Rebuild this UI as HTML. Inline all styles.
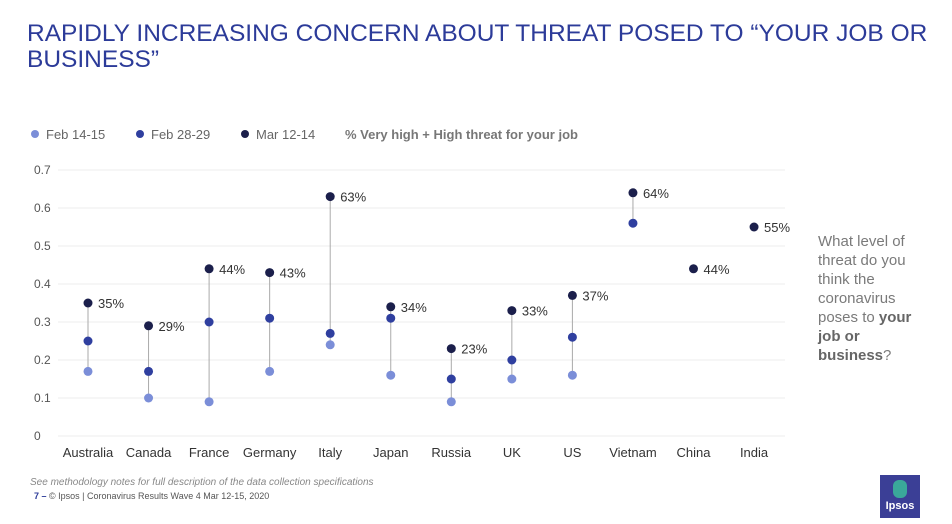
<!DOCTYPE html>
<html><head><meta charset="utf-8"><style>
body{margin:0;width:952px;height:524px;background:#fff;font-family:"Liberation Sans",sans-serif;overflow:hidden;position:relative}
.t{position:absolute;left:27px;top:21px;font-size:24.5px;line-height:26px;color:#2c3b99;letter-spacing:0px}
.side{position:absolute;left:818px;top:232px;font-size:15px;line-height:19px;color:#7a7a7a}
.side b{color:#666}
.foot1{position:absolute;left:30px;top:477px;font-size:10px;font-style:italic;color:#888}
.foot2{position:absolute;left:34px;top:491px;font-size:9px;color:#555}
.foot2 b{color:#2c3b99}
.logo{position:absolute;left:880px;top:475px;width:40px;height:43px;background:#3b3f96;color:#fff;font-size:11px;font-weight:bold;text-align:center}
</style></head><body>
<div class="t">RAPIDLY INCREASING CONCERN ABOUT THREAT POSED TO “YOUR JOB OR<br>BUSINESS”</div>
<svg id="c" width="952" height="524" style="position:absolute;left:0;top:0"></svg>
<div class="side">What level of<br>threat do you<br>think the<br>coronavirus<br>poses to <b>your<br>job or<br>business</b>?</div>
<div class="foot1">See methodology notes for full description of the data collection specifications</div>
<div class="foot2"><b>7 –</b> © Ipsos | Coronavirus Results Wave 4 Mar 12-15, 2020</div>
<div class="logo"><div style="width:14px;height:18px;background:#3aa89a;margin:5px auto 2px;border-radius:6px"></div>Ipsos</div>
<script>
const categories=["Australia","Canada","France","Germany","Italy","Japan","Russia","UK","US","Vietnam","China","India"];
const feb14=[0.17,0.10,0.09,0.17,0.24,0.16,0.09,0.15,0.16,null,null,null];
const feb28=[0.25,0.17,0.30,0.31,0.27,0.31,0.15,0.20,0.26,0.56,null,null];
const mar12=[0.35,0.29,0.44,0.43,0.63,0.34,0.23,0.33,0.37,0.64,0.44,0.55];
const ticks=[0,0.1,0.2,0.3,0.4,0.5,0.6,0.7];
const svg=document.getElementById('c');const NS='http://www.w3.org/2000/svg';
function y(v){return 436-v/0.7*266;}
function x(i){return 88+i*60.55;}
function mk(t,a,txt){const e=document.createElementNS(NS,t);for(const k in a)e.setAttribute(k,a[k]);if(txt!=null)e.textContent=txt;svg.appendChild(e);return e;}
ticks.forEach(t=>{
 const l=mk('line',{x1:58,x2:785,y1:y(t),y2:y(t),stroke:'#ececec','stroke-width':1});
 
 
 const tx=mk('text',{x:34,y:y(t)+4,'font-size':12,fill:'#555'},t===0?'0':String(t));
 
 
});
categories.forEach((c,i)=>{
 const tx=mk('text',{x:x(i),y:457,'font-size':13,fill:'#333','text-anchor':'middle'},c);
 
 
 const vals=[feb14[i],feb28[i],mar12[i]].filter(v=>v!=null);
 if(vals.length>1){
  const l=mk('line',{x1:x(i),x2:x(i),y1:y(Math.min(...vals)),y2:y(Math.max(...vals)),stroke:'#aaa','stroke-width':1});
  
  
 }
 [[feb14,'#7b8ed8'],[feb28,'#2f3f9f'],[mar12,'#1b1f4b']].forEach(([s,col])=>{
  if(s[i]==null)return;
  const d=mk('circle',{cx:x(i),cy:y(s[i]),r:4.5,fill:col});
  
  
 });
 const lb=mk('text',{x:x(i)+10,y:y(mar12[i])+5,'font-size':13,fill:'#333'},Math.round(mar12[i]*100)+'%');
 
 
});
const leg=[['Feb 14-15','#7b8ed8',35],['Feb 28-29','#2f3f9f',140],['Mar 12-14','#1b1f4b',245]];
leg.forEach(([t,c,lx])=>{
 const d=mk('circle',{cx:lx,cy:134,r:4,fill:c});
 
 
 const tx=mk('text',{x:lx+11,y:139,'font-size':13,fill:'#666'},t);
 
 
});
const lt=mk('text',{x:345,y:139,'font-size':13,'font-weight':'bold',fill:'#777'},'% Very high + High threat for your job');


</script>
</body></html>
